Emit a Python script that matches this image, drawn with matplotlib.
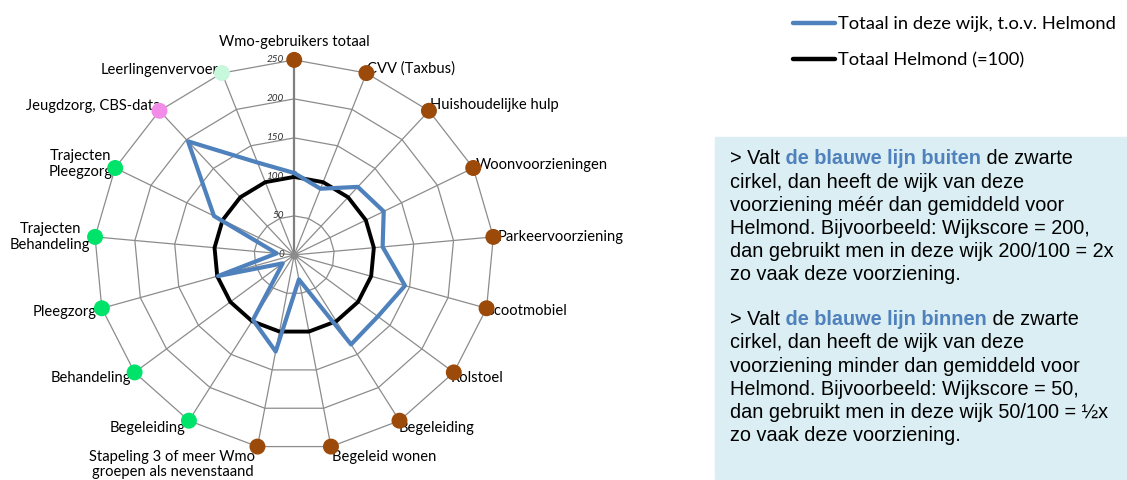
import numpy as np
import matplotlib
matplotlib.use("Agg")
import matplotlib.pyplot as plt
from matplotlib.lines import Line2D
from matplotlib.patches import Rectangle

categories = ["Wmo-gebruikers totaal", "CVV (Taxbus)", "Huishoudelijke hulp",
              "Woonvoorzieningen", "Parkeervoorziening", "Scootmobiel", "Rolstoel",
              "Begeleiding", "Begeleid wonen",
              "Stapeling 3 of meer Wmo\ngroepen als nevenstaand",
              "Begeleiding", "Behandeling", "Pleegzorg", "Trajecten\nBehandeling",
              "Trajecten\nPleegzorg", "Jeugdzorg, CBS-data", "Leerlingenvervoer"]
wijk = [105, 91, 118, 125, 111, 144, 131, 135, 32, 126, 98, 18, 99, 22, 112, 197, 127]
helmond = [100] * 17
ring = [250] * 17
dot_colors = ['#9B4A0A'] * 10 + ['#00E36A'] * 5 + ['#F38BE8', '#C8F8DC']
r_ticks = [0, 50, 100, 150, 200, 250]
legend_labels = ["Totaal in deze wijk, t.o.v. Helmond", "Totaal Helmond (=100)"]

BLUE = '#4F81BD'
GRID = '#8C8C8C'
W, H = 1127, 481
LBL = 'Lato'

# label placement: (ha, dx, dy) in pixels relative to the outer dot
label_pos = [('center', 0, 19), ('left', 1, 6), ('left', 1, 7), ('left', 3, 4),
             ('left', 4, 1), ('left', 0, -2), ('left', -3, -5), ('left', -1, -6),
             ('left', 1, -9), ('center', -85, -17), ('right', -3, -6),
             ('right', -3, -5), ('right', -5, -3), ('center', -45, 1),
             ('center', -35, 5), ('right', 1, 6), ('right', -3, 4)]

fig = plt.figure(figsize=(W / 100, H / 100), dpi=100)

ax = fig.add_axes([94.2 / W, 1 - (60.9 + 390) / H, 400 / W, 390 / H], projection='polar')
ax.set_aspect('auto')
ax.set_theta_zero_location('N')
ax.set_theta_direction(-1)
ax.set_ylim(0, 250)
ax.grid(False)
ax.set_xticks([])
ax.set_yticks([])
ax.spines['polar'].set_visible(False)
ax.patch.set_visible(False)

n = len(categories)
theta = np.arange(n) * 2 * np.pi / n
closed = np.append(theta, theta[0])

# polygon grid
for r in r_ticks[1:]:
    ax.plot(closed, [r] * (n + 1), color=GRID, lw=0.9, zorder=1)
for t in theta[1:]:
    ax.plot([t, t], [0, 250], color=GRID, lw=0.9, zorder=1)
ax.plot([0, 0], [0, 250], color='#7F7F7F', lw=1.6, zorder=1)
ax.scatter([0], [0], s=25, color='#8C8C8C', zorder=2)

ax.plot(closed, helmond + helmond[:1], color='black', lw=2.8, zorder=3)
ax.plot(closed, wijk + wijk[:1], color=BLUE, lw=3.0, zorder=4)
ax.scatter(theta, ring, s=110, c=dot_colors, zorder=5, clip_on=False)

for r in r_ticks:
    ax.annotate(str(r), xy=(0, r), xytext=(-10, 1), textcoords='offset pixels',
                ha='right', va='center', fontsize=7.2, style='italic', color='#333333',
                family=LBL)

for t, lab, (ha, dx, dy) in zip(theta, categories, label_pos):
    ax.annotate(lab, xy=(t, 250), xytext=(dx, dy), textcoords='offset pixels',
                ha=ha, va='center', fontsize=10.6, family=LBL, zorder=3,
                linespacing=1.15, annotation_clip=False)

# legend
for y, col, lab in zip([24, 60], [BLUE, 'black'], legend_labels):
    fig.add_artist(Line2D([793 / W, 835 / W], [1 - y / H] * 2, color=col, lw=3.2,
                          solid_capstyle='round'))
    fig.text(838 / W, 1 - y / H, lab, va='center', ha='left', fontsize=13.2, family=LBL)

# explanation box
fig.add_artist(Rectangle((715 / W, 1 - 480 / H), (W - 715) / W, (480 - 138) / H,
                         transform=fig.transFigure, color='#DAEEF3', zorder=0))

FS = 14.3
TX = 730 / W
paras = [("de blauwe lijn buiten", ["cirkel, dan heeft de wijk van deze",
                                    "voorziening méér dan gemiddeld voor",
                                    "Helmond. Bijvoorbeeld: Wijkscore = 200,",
                                    "dan gebruikt men in deze wijk 200/100 = 2x",
                                    "zo vaak deze voorziening."]),
         ("de blauwe lijn binnen", ["cirkel, dan heeft de wijk van deze",
                                    "voorziening minder dan gemiddeld voor",
                                    "Helmond. Bijvoorbeeld: Wijkscore = 50,",
                                    "dan gebruikt men in deze wijk 50/100 = ½x",
                                    "zo vaak deze voorziening."])]
for y0, (bold, rest) in zip([158.3, 319.3], paras):
    base = y0 + 6
    t1 = fig.text(TX, 1 - base / H, "> Valt", fontsize=FS, family='Liberation Sans',
                  va='baseline')
    t2 = ax.annotate(" " + bold, xy=(1, 0), xycoords=t1, va='bottom', ha='left',
                     fontsize=FS, family='Liberation Sans', fontweight='bold',
                     color=BLUE, annotation_clip=False)
    ax.annotate(" de zwarte", xy=(1, 0), xycoords=t2, va='bottom', ha='left',
                fontsize=FS, family='Liberation Sans', annotation_clip=False)
    for i, line in enumerate(rest):
        fig.text(TX, 1 - (base + 23.2 * (i + 1)) / H, line, fontsize=FS,
                 family='Liberation Sans', va='baseline')

fig.savefig('out.png', dpi=100)
